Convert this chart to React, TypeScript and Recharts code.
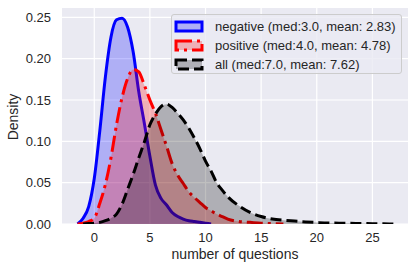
import { ComposedChart, Area, XAxis, YAxis, CartesianGrid } from "recharts";

// x grid the KDE curves were read at
const X = [
  -1.5, -1, -0.5, 0, 0.5, 1, 1.5, 2, 2.5, 3, 3.5, 4, 4.5, 5, 5.5, 6, 6.5, 7, 7.5, 8,
  8.5, 9, 9.5, 10, 10.5, 11, 11.5, 12, 13, 14, 15, 16, 17, 18, 19, 20, 21, 22, 23, 24,
  25, 26, 27,
];

const NEGATIVE = [
  0, 0.007, 0.021, 0.055, 0.113, 0.178, 0.226, 0.247, 0.249, 0.238, 0.208, 0.16, 0.122,
  0.082, 0.047, 0.031, 0.023, 0.014, 0.009, 0.006, 0.004, 0.003, 0.002, 0.001, 0,
  null, null, null, null, null, null, null, null, null, null, null, null, null, null,
  null, null, null, null,
];

const POSITIVE = [
  0, 0.001, 0.003, 0.007, 0.025, 0.048, 0.08, 0.12, 0.153, 0.176, 0.187, 0.184, 0.168,
  0.15, 0.134, 0.114, 0.094, 0.073, 0.059, 0.049, 0.039, 0.032, 0.026, 0.02, 0.016,
  0.012, 0.009, 0.006, 0.003, 0.002, 0.001, 0.0005, 0, null, null, null, null, null,
  null, null, null, null, null,
];

const ALL = [
  null, 0, 0.0005, 0.001, 0.002, 0.004, 0.007, 0.012, 0.024, 0.042, 0.06, 0.08, 0.099,
  0.12, 0.133, 0.142, 0.145, 0.141, 0.134, 0.126, 0.116, 0.104, 0.091, 0.076, 0.064,
  0.05, 0.041, 0.033, 0.022, 0.014, 0.009, 0.006, 0.0045, 0.0035, 0.0025, 0.0018,
  0.0012, 0.001, 0.0008, 0.0006, 0.0004, 0.0002, 0,
];

const X_TICKS = [0, 5, 10, 15, 20, 25];
const Y_TICKS = [0, 0.05, 0.1, 0.15, 0.2, 0.25];

const SERIES = [
  { key: "neg", label: "negative (med:3.0, mean: 2.83)", color: "#0000ff", dash: undefined },
  { key: "pos", label: "positive (med:4.0, mean: 4.78)", color: "#ff0000", dash: "16 5 3 5" },
  { key: "all", label: "all (med:7.0, mean: 7.62)", color: "#000000", dash: "11 5" },
];

const FONT = '"Liberation Sans", Arial, sans-serif';
const TEXT = "#262626";

const data = X.map((x, i) => ({ x, neg: NEGATIVE[i], pos: POSITIVE[i], all: ALL[i] }));

function LegendBox() {
  return (
    <div
      style={{
        position: "absolute",
        left: 171,
        top: 14,
        width: 229,
        height: 58,
        background: "rgba(234,234,242,0.8)",
        border: "1px solid #cccccc",
        borderRadius: 3,
        fontFamily: FONT,
        fontSize: 13,
        color: TEXT,
      }}
    >
      {SERIES.map((s, i) => (
        <div
          key={s.key}
          style={{ position: "absolute", left: 2, top: 2 + i * 19, height: 19, display: "flex", alignItems: "center", whiteSpace: "nowrap" }}
        >
          <svg width={30} height={13} style={{ marginRight: 11 }}>
            <rect
              x={2}
              y={2}
              width={26}
              height={9}
              fill={s.color}
              fillOpacity={0.25}
              stroke={s.color}
              strokeWidth={3}
              strokeDasharray={s.dash}
            />
          </svg>
          <span>{s.label}</span>
        </div>
      ))}
    </div>
  );
}

export default function App() {
  return (
    <div style={{ position: "absolute", left: 0, top: 0, width: 415, height: 271 }}>
      <ComposedChart
        width={415}
        height={271}
        data={data}
        margin={{ top: 8, right: 7, bottom: 0, left: 0 }}
      >
        <CartesianGrid fill="#eaeaf2" stroke="#ffffff" strokeWidth={1.2} verticalValues={X_TICKS} horizontalValues={Y_TICKS} />
        <XAxis
          type="number"
          dataKey="x"
          domain={[-2.9, 28.2]}
          ticks={X_TICKS}
          allowDataOverflow
          axisLine={false}
          tickLine={false}
          tickSize={0}
          tickMargin={9}
          height={47}
          tick={{ fill: TEXT, fontSize: 13, fontFamily: FONT }}
          label={{
            value: "number of questions",
            position: "insideBottom",
            offset: 12,
            fill: TEXT,
            fontSize: 14,
            fontFamily: FONT,
          }}
        />
        <YAxis
          type="number"
          domain={[0, 0.2613]}
          ticks={Y_TICKS}
          allowDataOverflow
          axisLine={false}
          tickLine={false}
          tickSize={0}
          tickMargin={11}
          width={62}
          tickFormatter={(v: number) => v.toFixed(2)}
          tick={{ fill: TEXT, fontSize: 13, fontFamily: FONT }}
          label={{
            content: () => (
              <text
                x={13}
                y={117}
                transform="rotate(-90 13 117)"
                textAnchor="middle"
                dominantBaseline="central"
                fill={TEXT}
                fontSize={14}
                fontFamily={FONT}
              >
                Density
              </text>
            ),
          }}
        />
        {SERIES.map((s) => (
          <Area
            key={s.key}
            type="monotone"
            dataKey={s.key}
            stroke={s.color}
            strokeWidth={3}
            strokeDasharray={s.dash}
            fill={s.color}
            fillOpacity={0.25}
            dot={false}
            activeDot={false}
            isAnimationActive={false}
          />
        ))}
      </ComposedChart>
      <LegendBox />
    </div>
  );
}
